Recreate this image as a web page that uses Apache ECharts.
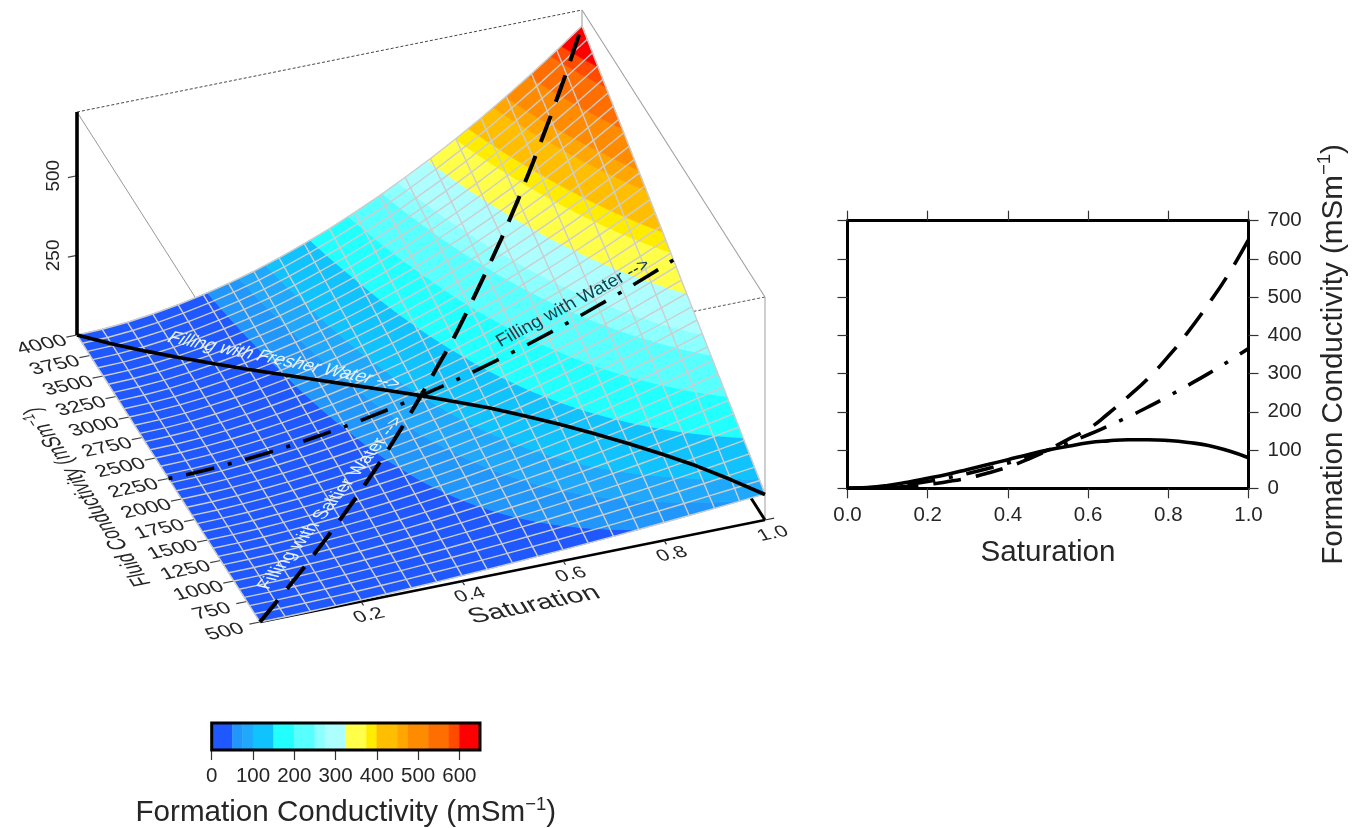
<!DOCTYPE html>
<html>
<head>
<meta charset="utf-8">
<style>html,body{margin:0;padding:0;background:#fff}#c{width:1364px;height:828px}</style>
<script src="https://cdn.jsdelivr.net/npm/echarts@6/dist/echarts.min.js"></script>
</head>
<body>
<div id="c"></div>
<script>
// ---- data ----
const saturation = [0,0.05,0.1,0.15,0.2,0.25,0.3,0.35,0.4,0.45,0.5,0.55,0.6,0.65,0.7,0.75,0.8,0.85,0.9,0.95,1];
const fluidRows = [500,1000,1500,2000,2500,3000,3500,4000];
const z500  = [0,0.5,1.6,3.3,5.3,7.8,10.6,13.8,17.3,21.1,25.2,29.7,34.4,39.4,44.7,50.3,56.1,62.2,68.6,75.2,82];
const z1000 = [0,0.7,2.5,5.4,9,13.4,18.5,24.4,31.1,38.5,46.5,55.3,64.6,74.8,85.5,96.8,108.8,121.5,134.8,148.7,163];
const z1500 = [0,0.9,3.4,7.5,12.6,19,26.4,35,44.9,55.9,67.7,80.9,94.9,110.1,126.2,143.4,161.5,180.7,201,222.3,244];
const z2000 = [0,1.1,4.3,9.6,16.3,24.6,34.3,45.6,58.7,73.3,89,106.5,125.1,145.5,167,189.9,214.2,240,267.2,295.8,325];
const z2500 = [0,1.4,5.3,11.7,20,30.2,42.3,56.2,72.5,90.8,110.2,132.1,155.3,180.9,207.7,236.4,266.9,299.2,333.4,369.4,407];
const z3000 = [0,1.6,6.2,13.8,23.7,35.8,50.2,66.8,86.4,108.2,131.5,157.8,185.5,216.2,248.5,283,319.6,358.5,399.6,442.9,488];
const z3500 = [0,1.8,7.1,15.9,27.3,41.4,58.1,77.4,100.2,125.6,152.7,183.4,215.8,251.6,289.2,329.5,372.3,417.7,465.8,516.5,569];
const z4000 = [0,2,8,18,31,47,66,88,114,143,174,209,246,287,330,376,425,477,532,590,650];

const fresherFluid = [4000,3825,3650,3475,3300,3125,2950,2775,2600,2425,2250,2075,1900,1725,1550,1375,1200,1025,850,675,500];
const fresherZ = [0,1.9,7.4,15.8,26,37,49.4,62,75,88,100,110,119,124,127,127,125,120,112,98,80];
const saltierFluid = [500,675,850,1025,1200,1375,1550,1725,1900,2075,2250,2425,2600,2775,2950,3125,3300,3475,3650,3825,4000];
const saltierZ = [0,0.6,2.3,5.5,10.4,17.6,27,40,56,76,100,128,155,195,240,288,345,410,482,560,650];
const waterFluid = [2250,2250,2250,2250,2250,2250,2250,2250,2250,2250,2250,2250,2250,2250,2250,2250,2250,2250,2250,2250,2250];
const waterZ = [0,1.2,4.8,10.7,18,27.7,38.7,51.5,66,82,100,119,140,163,187,213,241,270,300,332,366];

const bandEdges = [0,50,75,100,150,200,250,275,325,375,400,450,475,525,575,600,650];
const bandColors = ['#1f58ff','#2196fb','#20a8fd','#10c2fd','#22ffff','#58ffff','#8cffff','#adffff',
  '#ffff4a','#ffec00','#ffbe00','#ffa600','#ff8c00','#ff6e00','#ff4a00','#ff0000'];
const fluidTicks = [500,750,1000,1250,1500,1750,2000,2250,2500,2750,3000,3250,3500,3750,4000];
const satTicks = [0.2,0.4,0.6,0.8,1.0];
const zTicks = [250,500];

// ---- oblique view of the left panel ----
const rowsZ = [z500,z1000,z1500,z2000,z2500,z3000,z3500,z4000];
const Z_TOP = 700;
function project(s, f, z) {
  const t = (f - 500) / 3500;
  return [260 + 505 * s - 183 * t, 622 - 102 * s - 287 * t - z * 223 / 700];
}
function surfaceZ(i, f) {
  const r = (f - 500) / 500, a = Math.min(Math.floor(r), rowsZ.length - 2), u = r - a;
  return rowsZ[a][i] * (1 - u) + rowsZ[a + 1][i] * u;
}
function node(i, f) {
  const z = surfaceZ(i, f), p = project(saturation[i], f, z);
  return [p[0], p[1], z];
}
function clipAt(poly, level, keepAbove) {
  const out = [];
  for (let k = 0; k < poly.length; k++) {
    const a = poly[k], b = poly[(k + 1) % poly.length];
    const ina = keepAbove ? a[2] >= level : a[2] <= level;
    const inb = keepAbove ? b[2] >= level : b[2] <= level;
    if (ina) out.push(a);
    if (ina !== inb) {
      const t = (level - a[2]) / (b[2] - a[2]);
      out.push([a[0] + (b[0] - a[0]) * t, a[1] + (b[1] - a[1]) * t, level]);
    }
  }
  return out;
}
const FSTEP = 100;
const cells = [];
for (let i = 0; i < saturation.length - 1; i++)
  for (let f = 500; f < 4000; f += FSTEP) cells.push([i, f]);

function renderCell(params, api) {
  const c = cells[params.dataIndex];
  const quad = [node(c[0], c[1]), node(c[0] + 1, c[1]), node(c[0] + 1, c[1] + FSTEP), node(c[0], c[1] + FSTEP)];
  const children = [];
  for (let b = 0; b < bandColors.length; b++) {
    let p = clipAt(quad, bandEdges[b], true);
    if (p.length) p = clipAt(p, bandEdges[b + 1] + (b === bandColors.length - 1 ? 1 : 0), false);
    if (p.length > 2) children.push({
      type: 'polygon', shape: { points: p.map(q => api.coord([q[0], q[1]])) },
      style: { fill: bandColors[b], stroke: bandColors[b], lineWidth: 0.7 }
    });
  }
  return { type: 'group', children };
}
const meshLines = [];
saturation.forEach((s, i) => { const pts = []; for (let f = 500; f <= 4000; f += FSTEP) pts.push(node(i, f)); meshLines.push(pts); });
for (let f = 500; f <= 4000; f += FSTEP) meshLines.push(saturation.map((s, i) => node(i, f)));

function projected(fluid, z) { return saturation.map((s, i) => project(s, fluid[i], z[i])); }

function seg(a, b, color, width, type, zv) {
  return { type: 'line', xAxisIndex: 0, yAxisIndex: 0, data: [a, b], showSymbol: false, symbol: 'none', silent: true, z: zv,
    clip: false, lineStyle: { color, width, type: type || 'solid', cap: 'butt' } };
}
const boxSeries = [
  seg(project(0,4000,Z_TOP), project(1,4000,Z_TOP), '#333', 0.9, [3,2], 1),
  seg(project(1,500,Z_TOP), project(0,500,Z_TOP), '#444', 0.9, [3,2], 1),
  seg(project(1,4000,Z_TOP), project(1,500,Z_TOP), '#a0a0a0', 1.1, 'solid', 1),
  seg(project(0,4000,Z_TOP), project(0,500,Z_TOP), '#8c8c8c', 0.9, 'solid', 1),
  seg(project(1,500,0), project(1,500,Z_TOP), '#a8a8a8', 1.1, 'solid', 1),
  seg(project(1,4000,0), project(1,4000,Z_TOP), '#a0a0a0', 1.1, 'solid', 1),
  seg(project(1,500,0), project(1,4000,0), '#000', 3, 'solid', 1),
  seg(project(0,500,0), project(1,500,0), '#000', 2.4, 'solid', 1),
  seg(project(0,4000,0), project(0,4000,Z_TOP), '#000', 3.6, 'solid', 7)
];
const tickSeries = [];
fluidTicks.forEach(f => tickSeries.push(seg(project(0,f,0), project(-0.021,f,0), '#444', 1.2, 'solid', 1)));
satTicks.forEach(s => tickSeries.push(s === 1
  ? seg(project(1,500,0), project(1.018,500,0), '#333', 1.2, 'solid', 1)
  : seg(project(s,500,0), project(s,452,0), '#333', 1.2, 'solid', 1)));
zTicks.forEach(z => tickSeries.push(seg(project(0,4000,z), project(-0.018,4000,z), '#444', 1.2, 'solid', 1)));

// ---- projected text ----
const INK = '#262626';
const BASE_ROT = 0.199, BASE_SKEW = 0.368;
const texts = [];
fluidTicks.forEach(f => { const p = project(0, f, 0);
  texts.push({ text: String(f), x: p[0] - 35, y: p[1] + 10, size: 15.5, rot: BASE_ROT, sx: 1.42, sy: 1.12, skew: BASE_SKEW, fill: INK }); });
satTicks.forEach(s => { const p = project(s, 500, 0);
  texts.push({ text: s.toFixed(1), x: p[0] + 8, y: p[1] + 14, size: 15, rot: BASE_ROT, sx: 1.42, sy: 1.12, skew: BASE_SKEW, fill: INK }); });
zTicks.forEach(z => { const p = project(0, 4000, z);
  texts.push({ text: String(z), x: p[0] - 23, y: p[1], size: 19, rot: Math.PI / 2, sx: 1, sy: 1, skew: 0, fill: INK }); });
texts.push({ text: 'Saturation', x: 534, y: 605, size: 18, rot: BASE_ROT, sx: 1.6, sy: 1.22, skew: BASE_SKEW, fill: INK });
texts.push({ text: '{a|Fluid Conductivity (mSm}{s|\u22121}{a|)}', x: 88, y: 497, size: 18, rot: 2.138, sx: 0.98, sy: 1.3, skew: -BASE_SKEW, fill: INK,
  rich: { a: { fontSize: 18, fill: INK, lineHeight: 22, fontFamily: 'Liberation Sans' }, s: { fontSize: 12, fill: INK, verticalAlign: 'top', lineHeight: 22, fontFamily: 'Liberation Sans' } } });
texts.push({ text: 'Filling with Fresher Water -->', x: 284, y: 361, size: 14, rot: -0.204, sx: 1.31, sy: 1.25, skew: -0.43, fill: '#e6f4ff' });
texts.push({ text: 'Filling with Saltier Water -->', x: 331, y: 503, size: 14, rot: 0.90, sx: 1.28, sy: 1.25, skew: 0.43, fill: '#e6f4ff' });
texts.push({ text: 'Filling with Water -->', x: 573, y: 303, size: 15, rot: 0.49, sx: 1.25, sy: 1.2, skew: 0.08, fill: '#12414f' });

function renderText(params, api) {
  const t = texts[params.dataIndex];
  const c = api.coord([t.x, t.y]);
  const style = { text: t.text, fontSize: t.size, fontFamily: 'Liberation Sans', fill: t.fill, align: 'center', verticalAlign: 'middle' };
  if (t.rich) style.rich = t.rich;
  return { type: 'text', name: 'skew' + params.dataIndex, x: c[0], y: c[1], rotation: t.rot, scaleX: t.sx, scaleY: t.sy, style };
}

const nameRich = {
  a: { fontSize: 29.6, fontFamily: 'Liberation Sans', color: INK, lineHeight: 36 },
  s: { fontSize: 18.5, fontFamily: 'Liberation Sans', color: INK, lineHeight: 36, verticalAlign: 'top' }
};
const formationName = '{a|Formation Conductivity (mSm}{s|\u22121}{a|)}';
const tickFont = { fontFamily: 'Liberation Sans', fontSize: 20.5, color: INK };
const thick = { lineStyle: { color: '#000', width: 3 } };
const tickSt = { length: 10, lineStyle: { color: '#333', width: 1.2 } };

const option = {
  animation: false,
  backgroundColor: '#fff',
  grid: [
    { left: 0, top: 0, width: 1364, height: 828, show: false, outerBoundsMode: 'none' },
    { left: 847.5, top: 220.7, width: 401, height: 267.6, outerBoundsMode: 'none' },
    { left: 211.7, top: 723, width: 268.3, height: 27, show: true, z: 5, backgroundColor: 'transparent', borderColor: '#000', borderWidth: 3, outerBoundsMode: 'none' }
  ],
  xAxis: [
    { gridIndex: 0, type: 'value', min: 0, max: 1364, show: false },
    { gridIndex: 1, type: 'value', min: 0, max: 1, interval: 0.2, position: 'bottom', axisLine: { show: true, onZero: false, ...thick }, axisTick: { show: true, ...tickSt }, splitLine: { show: false },
      axisLabel: { ...tickFont, margin: 17, formatter: v => v.toFixed(1) },
      name: 'Saturation', nameLocation: 'middle', nameGap: 50, nameTextStyle: { fontFamily: 'Liberation Sans', fontSize: 29.6, color: INK } },
    { gridIndex: 1, type: 'value', min: 0, max: 1, interval: 0.2, position: 'top', axisLine: { show: true, onZero: false, ...thick }, axisTick: { show: true, ...tickSt }, axisLabel: { show: false }, splitLine: { show: false } },
    { gridIndex: 2, type: 'value', min: 0, max: 650, interval: 100, position: 'bottom', axisLine: { show: false }, axisTick: { show: true, ...tickSt }, splitLine: { show: false },
      axisLabel: { ...tickFont, margin: 16, showMaxLabel: false },
      name: formationName, nameLocation: 'middle', nameGap: 45, nameTextStyle: { rich: nameRich } }
  ],
  yAxis: [
    { gridIndex: 0, type: 'value', min: 0, max: 828, inverse: true, show: false },
    { gridIndex: 1, type: 'value', min: 0, max: 700, interval: 100, position: 'right', axisLine: { show: true, onZero: false, ...thick }, axisTick: { show: true, ...tickSt }, splitLine: { show: false },
      axisLabel: { ...tickFont, margin: 19 },
      name: formationName, nameLocation: 'middle', nameRotate: 90, nameGap: 67, nameTextStyle: { rich: nameRich } },
    { gridIndex: 1, type: 'value', min: 0, max: 700, interval: 100, position: 'left', axisLine: { show: true, onZero: false, ...thick }, axisTick: { show: true, ...tickSt }, axisLabel: { show: false }, splitLine: { show: false } },
    { gridIndex: 2, type: 'value', min: 0, max: 1, show: false }
  ],
  series: [
    ...boxSeries,
    ...tickSeries,
    { type: 'custom', xAxisIndex: 0, yAxisIndex: 0, silent: true, clip: false, z: 2, renderItem: renderCell, data: cells.map((c, i) => [i, 0]) },
    { type: 'custom', xAxisIndex: 0, yAxisIndex: 0, silent: true, clip: false, z: 3,
      renderItem: (params, api) => ({ type: 'polyline', shape: { points: meshLines[params.dataIndex].map(q => api.coord([q[0], q[1]])) },
        style: { fill: null, stroke: '#cdcdcd', lineWidth: 1.4 } }),
      data: meshLines.map((c, i) => [i, 0]) },
    { type: 'line', xAxisIndex: 0, yAxisIndex: 0, name: 'fresher', data: projected(fresherFluid, fresherZ), symbol: 'none', silent: true, z: 4, clip: false, lineStyle: { color: '#000', width: 3.6 } },
    { type: 'line', xAxisIndex: 0, yAxisIndex: 0, name: 'saltier', data: projected(saltierFluid, saltierZ), symbol: 'none', silent: true, z: 4, clip: false, lineStyle: { color: '#000', width: 4, type: [28, 15], cap: 'butt' } },
    { type: 'line', xAxisIndex: 0, yAxisIndex: 0, name: 'water', data: projected(waterFluid, waterZ), symbol: 'none', silent: true, z: 4, clip: false, lineStyle: { color: '#000', width: 3.6, type: [29, 14, 4, 14], dashOffset: 43, cap: 'butt' } },
    { type: 'custom', xAxisIndex: 0, yAxisIndex: 0, silent: true, clip: false, z: 8, renderItem: renderText, data: texts.map((c, i) => [i, 0]) },
    // right panel
    { type: 'line', xAxisIndex: 1, yAxisIndex: 1, data: saturation.map((s, i) => [s, fresherZ[i]]), symbol: 'none', smooth: true, silent: true, z: 4, lineStyle: { color: '#000', width: 3.6 } },
    { type: 'line', xAxisIndex: 1, yAxisIndex: 1, data: saturation.map((s, i) => [s, saltierZ[i]]), symbol: 'none', smooth: true, silent: true, z: 4, lineStyle: { color: '#000', width: 3.6, type: [28, 15], cap: 'butt' } },
    { type: 'line', xAxisIndex: 1, yAxisIndex: 1, data: saturation.map((s, i) => [s, waterZ[i]]), symbol: 'none', smooth: true, silent: true, z: 4, lineStyle: { color: '#000', width: 3.6, type: [28, 14, 4, 14], cap: 'butt' } },
    // colour bar
    { type: 'custom', xAxisIndex: 3, yAxisIndex: 3, silent: true, z: 2,
      renderItem: (params, api) => {
        const b = params.dataIndex;
        const p0 = api.coord([bandEdges[b], 1]), p1 = api.coord([bandEdges[b + 1], 0]);
        return { type: 'rect', shape: { x: p0[0], y: p0[1], width: p1[0] - p0[0], height: p1[1] - p0[1] }, style: { fill: bandColors[b], stroke: bandColors[b], lineWidth: 0.5 } };
      },
      data: bandColors.map((c, i) => [bandEdges[i], 0]) }
  ]
};
const chart = echarts.init(document.getElementById('c'), null, { renderer: 'canvas' });
chart.setOption(option);
// letters lie on the tilted base plane: shear them after the library has built them
function applySkew() {
  const zr = chart.getZr();
  zr.storage.traverse(el => {
    if (el.name && /^skew\d+$/.test(el.name)) {
      const t = texts[+el.name.slice(4)];
      if (t) { el.skewX = t.skew; el.markRedraw && el.markRedraw(); }
    }
  });
  zr.refresh();
}
applySkew();
</script>
</body>
</html>
